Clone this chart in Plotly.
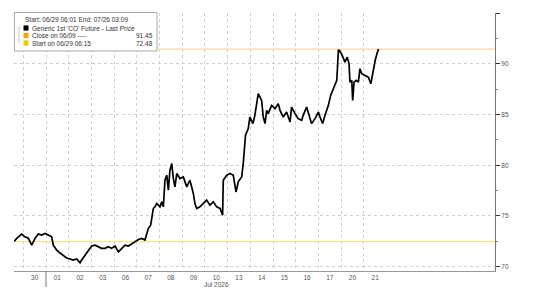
import plotly.graph_objects as go

# ---- data (x = trading-session position, 0 = start of 30 Jun) ----
x_pos = [-0.41, -0.28, -0.07, 0.07, 0.22, 0.37, 0.52, 0.66, 0.81, 0.96, 1.10, 1.25, 1.32, 1.47,
         1.62, 1.76, 1.91, 2.06, 2.20, 2.35, 2.50, 2.57, 2.72, 2.86, 3.01, 3.16, 3.30, 3.45,
         3.60, 3.74, 3.89, 4.04, 4.19, 4.33, 4.48, 4.63, 4.78, 4.92, 5.07, 5.22, 5.36, 5.51,
         5.61, 5.73, 5.80, 5.88, 6.02, 6.10, 6.17, 6.24, 6.32, 6.39, 6.46, 6.54, 6.61, 6.68,
         6.76, 6.90, 7.05, 7.20, 7.34, 7.49, 7.56, 7.64, 7.78, 7.93, 8.08, 8.22, 8.37, 8.52,
         8.67, 8.78, 8.81, 8.96, 9.11, 9.25, 9.37, 9.47, 9.62, 9.69, 9.74, 9.79, 9.91, 9.98,
         10.12, 10.20, 10.35, 10.42, 10.50, 10.57, 10.65, 10.72, 10.79, 10.94, 11.09, 11.23,
         11.31, 11.45, 11.60, 11.75, 11.82, 11.97, 12.11, 12.26, 12.33, 12.48, 12.56, 12.70,
         12.85, 13.00, 13.07, 13.19, 13.29, 13.44, 13.54, 13.66, 13.81, 13.88, 13.92, 14.03,
         14.17, 14.27, 14.35, 14.39, 14.47, 14.51, 14.57, 14.66, 14.76, 14.83, 14.91, 15.06,
         15.20, 15.31, 15.40, 15.50, 15.58, 15.65]
price = [72.48, 72.82, 73.22, 72.95, 72.82, 72.13, 72.82, 73.22, 73.12, 73.28, 73.12, 72.95, 72.13, 71.64,
         71.35, 71.15, 70.86, 70.76, 70.66, 70.76, 70.39, 70.66, 71.15, 71.64, 72.04, 72.13, 71.97, 71.81,
         71.81, 71.97, 71.81, 72.04, 71.47, 71.81, 72.13, 72.04, 72.23, 72.46, 72.69, 72.79, 72.63, 73.78,
         74.10, 75.74, 75.90, 76.23, 75.90, 76.39, 75.90, 78.53, 79.02, 77.54, 79.51, 80.17, 78.69, 77.87,
         79.18, 78.69, 78.85, 77.87, 78.53, 77.22, 76.23, 75.74, 75.90, 76.23, 76.56, 76.07, 76.39, 75.90,
         75.74, 75.08, 78.53, 79.02, 79.18, 79.02, 77.37, 78.36, 78.85, 80.17, 81.47, 82.95, 83.61, 84.75,
         84.10, 84.92, 87.05, 86.72, 86.39, 84.75, 84.10, 85.41, 85.08, 85.90, 85.58, 86.07,
         85.41, 84.75, 85.24, 84.26, 85.73, 85.08, 84.59, 84.42, 84.92, 85.73, 85.08, 84.10,
         84.59, 85.24, 84.75, 84.10, 84.92, 85.90, 86.88, 87.54, 88.36, 91.31, 91.31, 90.91,
         90.16, 90.65, 90.00, 88.19, 88.36, 86.39, 88.19, 88.36, 88.19, 89.51, 89.02, 88.85,
         88.68, 88.03, 89.17, 90.32, 90.98, 91.45]

day_labels = ["30", "01", "02", "03", "06", "07", "08", "09", "10", "13", "14", "15", "16", "17", "20", "21"]
close_level = 91.45
start_level = 72.48
y_ticks = [70, 75, 80, 85, 90, 95]
y_ticktext = ["70", "75", "80", "85", "90", ""]

X_RANGE = [-0.41, 20.78]
Y_RANGE = [69.58, 95.0]

W, H = 552, 298
ML, MR, MT, MB = 14, 57, 13, 27
PW, PH = W - ML - MR, H - MT - MB


def px(xp):
    return (xp - ML) / PW


def py(yp):
    return (H - MB - yp) / PH


fig = go.Figure()

fig.add_trace(go.Scatter(x=[X_RANGE[0], X_RANGE[1]], y=[close_level, close_level], mode="lines",
                         line=dict(color="#fbd79a", width=1.2), hoverinfo="skip"))
fig.add_trace(go.Scatter(x=[X_RANGE[0], X_RANGE[1]], y=[start_level, start_level], mode="lines",
                         line=dict(color="#f2e48a", width=1.2), hoverinfo="skip"))
fig.add_trace(go.Scatter(x=x_pos, y=price, mode="lines",
                         line=dict(color="#000000", width=1.7)))

font_main = "Liberation Sans, Arial, sans-serif"

fig.update_layout(
    width=W, height=H, margin=dict(l=ML, r=MR, t=MT, b=MB),
    paper_bgcolor="white", plot_bgcolor="white", showlegend=False,
    font=dict(family=font_main, size=6.5, color="#555"),
    xaxis=dict(range=X_RANGE, tickmode="array",
               tickvals=[i + 0.5 for i in range(len(day_labels))], ticktext=day_labels,
               showgrid=False, zeroline=False, showline=True, linecolor="#999", linewidth=1,
               ticks="", tickfont=dict(size=6.5, color="#555"),
               minor=dict(tickvals=list(range(len(day_labels))), showgrid=True,
                          gridcolor="#cfcfcf", griddash="dot", gridwidth=1, ticks="")),
    yaxis=dict(range=Y_RANGE, side="right", tickmode="array", tickvals=y_ticks, ticktext=y_ticktext,
               showgrid=True, gridcolor="#cfcfcf", griddash="dot", zeroline=False,
               showline=True, linecolor="#777", linewidth=1,
               ticks="outside", ticklen=4, tickcolor="#333", tickfont=dict(size=6.5, color="#555"),
               minor=dict(tickmode="linear", tick0=72.5, dtick=5, ticks="outside", ticklen=2,
                          tickcolor="#888", showgrid=False)),
)

# month separator below axis
fig.add_shape(type="line", xref="x", yref="paper", x0=1, x1=1, y0=0, y1=-16 / PH,
              line=dict(color="#777", width=1))
fig.add_annotation(x=8.5, xref="x", y=py(284), yref="paper", text="Jul 2026", showarrow=False,
                   font=dict(size=6.5, color="#555"), xanchor="center", yanchor="middle")

# legend box
fig.add_shape(type="rect", xref="paper", yref="paper", x0=px(14.5), x1=px(157), y0=py(51), y1=py(12.5),
              line=dict(color="#a8a8a8", width=1), fillcolor="white", layer="above")
fig.add_shape(type="line", xref="paper", yref="paper", x0=px(19), x1=px(19), y0=py(43), y1=py(26),
              line=dict(color="#c8c8c8", width=1), layer="above")
fig.add_annotation(x=px(22.5), y=py(19.5), xref="paper", yref="paper", text="Start: 06/29 06:01 End: 07/26 03:09",
                   showarrow=False, xanchor="left", yanchor="middle", font=dict(size=6.5, color="#333"))
rows = [("Generic 1st 'CO' Future - Last Price", "#000000", "", 28),
        ("Close on 06/09 ----", "#f5a200", "91.45", 35.5),
        ("Start on 06/29 06:15", "#e8c90a", "72.48", 43)]
for label, col, val, yy in rows:
    fig.add_shape(type="rect", xref="paper", yref="paper", x0=px(23.5), x1=px(28.5), y0=py(yy + 2.6),
                  y1=py(yy - 2.6), line=dict(width=0), fillcolor=col, layer="above")
    fig.add_annotation(x=px(30), y=py(yy), xref="paper", yref="paper", text=label, showarrow=False,
                       xanchor="left", yanchor="middle", font=dict(size=6.5, color="#333"))
    if val:
        fig.add_annotation(x=px(154.5), y=py(yy), xref="paper", yref="paper", text=val, showarrow=False,
                           xanchor="right", yanchor="middle", font=dict(size=6.5, color="#333"))

fig.write_html("out.html")
